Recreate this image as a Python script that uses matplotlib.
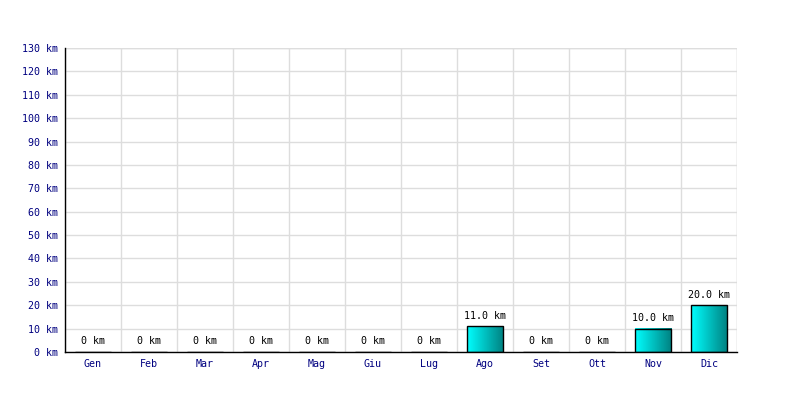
import matplotlib
matplotlib.use("Agg")
import matplotlib.pyplot as plt
import numpy as np

months = ["Gen", "Feb", "Mar", "Apr", "Mag", "Giu", "Lug", "Ago", "Set", "Ott", "Nov", "Dic"]
values = [0, 0, 0, 0, 0, 0, 0, 11.0, 0, 0, 10.0, 20.0]
yticks = list(range(0, 131, 10))

plt.rcParams['font.family'] = ['DejaVu Sans Mono']
fig = plt.figure(figsize=(8, 4), dpi=100)
ax = fig.add_axes([65/800, 48/400, 672/800, 304/400])
x = np.arange(len(months))
ax.set_xlim(-0.5, len(months) - 0.5)
ax.set_ylim(0, 130)

ax.set_xticks(x)
ax.set_xticklabels(months)
ax.set_yticks(yticks)
ax.set_yticklabels([f"{v} km" for v in yticks])
ax.tick_params(axis='both', length=0, labelsize=7.2, colors='#000080', pad=5)

ax.set_xticks(np.arange(-0.5, len(months) + 0.5, 1), minor=True)
ax.tick_params(which='minor', length=0)
ax.grid(True, which='minor', axis='x', color='#dddddd', lw=1)
ax.grid(True, which='major', axis='y', color='#dddddd', lw=1)
ax.set_axisbelow(True)
for s in ['top', 'right']:
    ax.spines[s].set_visible(False)
for s in ['left', 'bottom']:
    ax.spines[s].set_color('black')
    ax.spines[s].set_linewidth(1)
ax.axhline(130, color='#dddddd', lw=1, zorder=0)
ax.axvline(len(months) - 0.5, color='#dddddd', lw=1, zorder=0)

w = 0.66
bars = ax.bar(x, values, width=w, color='none', edgecolor='black', lw=1, zorder=3)
grad = np.linspace(0, 1, 256).reshape(1, -1)
from matplotlib.colors import LinearSegmentedColormap
cmap = LinearSegmentedColormap.from_list('cy', ['#00ffff', '#008080'])
for b, v in zip(bars, values):
    if v > 0:
        ax.imshow(grad, extent=[b.get_x(), b.get_x() + b.get_width(), 0, v],
                  aspect='auto', cmap=cmap, zorder=2, interpolation='bicubic')
    label = f"{v:.1f} km" if v > 0 else "0 km"
    ax.annotate(label, (b.get_x() + b.get_width() / 2, v), xytext=(0, 4),
                textcoords='offset points', ha='center', va='bottom',
                fontsize=7.2, color='black')
ax.set_xlim(-0.5, len(months) - 0.5)
ax.set_ylim(0, 130)

fig.savefig("out.png", dpi=100)
